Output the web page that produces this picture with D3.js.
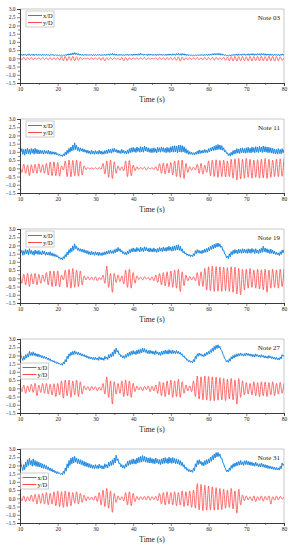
<!DOCTYPE html>
<html>
<head>
<meta charset="utf-8">
<script src="https://cdn.jsdelivr.net/npm/d3@7"></script>
<style>
  body { margin: 0; background: #fff; }
  svg text { font-family: 'Liberation Serif', 'DejaVu Serif', serif; fill: #222; }
</style>
</head>
<body>
<svg id="chart"></svg>
<script>
// panel names and legend labels
const notes = ['Note 03', 'Note 11', 'Note 19', 'Note 27', 'Note 31'];
const seriesNames = ['x/D', 'y/D'];
const xTicks = [10, 20, 30, 40, 50, 60, 70, 80];
const yTicks = [-1.5, -1.0, -0.5, 0.0, 0.5, 1.0, 1.5, 2.0, 2.5, 3.0];

// x/D, sampled every 0.25 s from 10 s to 80 s
const xD03 = [
  0.27,0.18,0.25,0.17,0.26,0.19,0.24,0.16,0.25,0.18,0.27,0.17,0.24,0.18,0.26,0.16,0.25,0.19,0.24,0.17,
  0.25,0.18,0.24,0.17,0.26,0.18,0.23,0.17,0.25,0.19,0.24,0.16,0.23,0.18,0.25,0.17,0.22,0.17,0.23,0.16,
  0.21,0.16,0.2,0.15,0.19,0.15,0.2,0.16,0.23,0.17,0.26,0.19,0.28,0.2,0.3,0.21,0.33,0.22,0.35,0.23,
  0.32,0.2,0.29,0.19,0.26,0.18,0.25,0.17,0.24,0.18,0.25,0.17,0.23,0.17,0.24,0.18,0.23,0.16,0.24,0.17,
  0.24,0.17,0.23,0.18,0.25,0.17,0.23,0.16,0.24,0.18,0.25,0.17,0.26,0.19,0.27,0.18,0.28,0.2,0.3,0.19,
  0.28,0.18,0.26,0.17,0.24,0.17,0.25,0.18,0.24,0.16,0.23,0.17,0.25,0.18,0.26,0.17,0.24,0.18,0.25,0.17,
  0.26,0.18,0.27,0.19,0.26,0.18,0.28,0.19,0.3,0.2,0.27,0.18,0.26,0.19,0.25,0.17,0.27,0.18,0.26,0.19,
  0.25,0.17,0.24,0.18,0.26,0.17,0.25,0.18,0.27,0.19,0.26,0.17,0.24,0.18,0.25,0.17,0.26,0.18,0.27,0.19,
  0.26,0.18,0.28,0.19,0.27,0.18,0.29,0.2,0.3,0.19,0.28,0.18,0.3,0.2,0.28,0.18,0.26,0.17,0.24,0.16,
  0.22,0.16,0.21,0.15,0.2,0.15,0.21,0.16,0.22,0.16,0.23,0.17,0.24,0.17,0.23,0.16,0.24,0.18,0.25,0.17,
  0.26,0.18,0.27,0.19,0.28,0.2,0.3,0.2,0.29,0.21,0.31,0.2,0.3,0.19,0.28,0.18,0.25,0.17,0.22,0.15,
  0.2,0.14,0.19,0.15,0.21,0.16,0.24,0.17,0.25,0.18,0.26,0.17,0.27,0.19,0.26,0.18,0.28,0.19,0.27,0.18,
  0.26,0.19,0.28,0.18,0.27,0.2,0.29,0.19,0.28,0.18,0.27,0.19,0.29,0.2,0.28,0.18,0.3,0.2,0.29,0.19,
  0.28,0.18,0.27,0.19,0.26,0.17,0.27,0.18,0.25,0.17,0.26,0.18,0.25,0.17,0.24,0.16,0.25,0.18,0.27,0.19,
  0.24
];
const xD11 = [
  1.28,1.0,1.2,0.85,1.15,0.8,1.18,0.88,1.22,0.9,1.15,0.85,1.2,0.92,1.18,0.86,1.22,0.9,1.16,0.88,
  1.12,0.88,1.1,0.9,1.08,0.86,1.1,0.9,1.06,0.88,1.1,0.86,1.05,0.85,1.02,0.86,1.0,0.84,0.98,0.82,
  0.9,0.78,0.86,0.74,0.82,0.72,0.88,0.76,0.98,0.82,1.1,0.9,1.22,0.98,1.3,1.05,1.42,1.1,1.55,1.15,
  1.4,1.08,1.28,1.02,1.25,1.05,1.2,1.0,1.18,0.98,1.12,0.92,1.1,0.9,1.06,0.86,1.1,0.88,1.05,0.85,
  1.08,0.88,1.04,0.86,1.1,0.88,1.06,0.85,1.02,0.86,1.08,0.9,1.12,0.9,1.18,0.95,1.15,0.92,1.2,0.98,
  1.22,1.0,1.15,0.95,1.12,0.92,1.08,0.9,1.15,0.93,1.1,0.9,1.05,0.88,1.12,0.9,1.2,0.95,1.25,0.98,
  1.28,1.0,1.22,0.96,1.3,1.02,1.25,0.98,1.32,1.0,1.28,0.98,1.35,1.05,1.3,1.0,1.25,0.98,1.2,0.95,
  1.22,0.96,1.25,0.98,1.2,0.94,1.28,1.0,1.25,0.98,1.3,1.02,1.26,0.98,1.22,0.95,1.28,0.98,1.25,0.96,
  1.32,1.0,1.35,0.98,1.38,1.0,1.35,0.95,1.4,1.0,1.42,0.98,1.38,1.0,1.32,0.95,1.2,0.9,1.1,0.85,
  1.02,0.85,0.98,0.84,0.95,0.82,0.98,0.85,1.05,0.88,1.12,0.9,1.08,0.92,1.1,0.94,1.15,0.96,1.12,0.95,
  1.2,1.0,1.25,1.05,1.3,1.08,1.35,1.1,1.4,1.12,1.45,1.15,1.42,1.12,1.38,1.1,1.25,1.0,1.1,0.9,
  0.95,0.78,0.9,0.74,0.98,0.8,1.08,0.86,1.12,0.9,1.2,0.92,1.18,0.9,1.22,0.95,1.25,0.95,1.2,0.92,
  1.25,0.95,1.28,0.96,1.22,0.94,1.3,0.98,1.26,0.95,1.32,0.98,1.28,0.96,1.34,1.0,1.3,0.96,1.36,1.0,
  1.32,0.98,1.3,0.95,1.28,0.96,1.25,0.92,1.22,0.9,1.18,0.88,1.15,0.86,1.2,0.9,1.15,0.88,1.2,0.95,
  1.15
];
const xD19 = [
  1.9,1.55,1.7,1.4,1.68,1.45,1.75,1.5,1.72,1.42,1.8,1.5,1.7,1.45,1.65,1.4,1.72,1.48,1.68,1.45,
  1.7,1.45,1.62,1.42,1.68,1.48,1.65,1.4,1.6,1.42,1.58,1.4,1.62,1.38,1.55,1.35,1.5,1.32,1.45,1.3,
  1.38,1.22,1.3,1.15,1.25,1.12,1.32,1.2,1.45,1.3,1.6,1.42,1.75,1.55,1.85,1.62,1.98,1.7,2.1,1.8,
  1.95,1.7,1.85,1.65,1.8,1.62,1.78,1.58,1.75,1.55,1.7,1.5,1.68,1.45,1.62,1.42,1.65,1.45,1.6,1.4,
  1.62,1.42,1.58,1.38,1.6,1.4,1.55,1.38,1.58,1.42,1.62,1.45,1.65,1.48,1.7,1.5,1.72,1.52,1.68,1.5,
  1.75,1.55,1.8,1.6,1.88,1.65,1.8,1.6,1.7,1.5,1.62,1.45,1.58,1.42,1.65,1.48,1.75,1.55,1.8,1.6,
  1.85,1.62,1.8,1.6,1.88,1.65,1.82,1.6,1.9,1.65,1.85,1.62,1.92,1.68,1.88,1.65,1.82,1.6,1.85,1.62,
  1.8,1.6,1.85,1.62,1.78,1.58,1.82,1.6,1.88,1.65,1.85,1.62,1.9,1.66,1.86,1.64,1.9,1.68,1.95,1.7,
  1.9,1.65,1.95,1.68,1.98,1.7,2.02,1.72,2.05,1.7,1.95,1.65,1.8,1.55,1.65,1.48,1.55,1.4,1.48,1.35,
  1.45,1.32,1.42,1.32,1.5,1.38,1.68,1.5,1.75,1.55,1.7,1.52,1.68,1.5,1.72,1.55,1.78,1.58,1.82,1.62,
  1.88,1.68,1.95,1.75,2.02,1.8,2.08,1.85,2.12,1.9,2.15,1.92,2.1,1.88,1.95,1.7,1.72,1.48,1.45,1.25,
  1.35,1.2,1.5,1.3,1.62,1.42,1.7,1.5,1.75,1.52,1.72,1.5,1.78,1.55,1.75,1.52,1.8,1.55,1.78,1.55,
  1.75,1.52,1.8,1.55,1.78,1.52,1.82,1.58,1.76,1.5,1.8,1.55,1.72,1.5,1.78,1.55,1.85,1.58,1.95,1.62,
  1.85,1.58,1.8,1.55,1.75,1.5,1.78,1.52,1.72,1.48,1.65,1.45,1.6,1.42,1.55,1.38,1.62,1.45,1.72,1.55,
  1.75
];
const xD27 = [
  2.55,2.0,1.85,1.7,1.95,1.75,2.05,1.85,2.1,1.9,2.25,2.0,2.18,1.98,2.22,2.0,2.15,1.95,2.1,1.92,
  2.08,1.9,2.02,1.85,1.98,1.82,1.95,1.8,1.9,1.75,1.85,1.7,1.8,1.65,1.72,1.6,1.68,1.55,1.62,1.5,
  1.58,1.48,1.52,1.42,1.5,1.4,1.6,1.48,1.75,1.6,1.95,1.8,2.1,1.95,2.2,2.02,2.25,2.05,2.28,2.08,
  2.22,2.05,2.2,2.02,2.15,1.98,2.1,1.95,2.05,1.9,2.0,1.85,1.95,1.8,1.92,1.78,1.9,1.75,1.88,1.72,
  1.9,1.75,1.85,1.7,1.92,1.75,1.88,1.72,1.85,1.7,1.95,1.78,1.9,1.75,2.05,1.85,2.1,1.9,2.2,1.95,
  2.35,2.1,2.45,2.2,2.3,2.05,2.1,1.92,2.0,1.85,1.98,1.82,2.05,1.88,2.15,1.95,2.2,2.0,2.25,2.05,
  2.3,2.08,2.25,2.05,2.32,2.1,2.35,2.12,2.4,2.15,2.45,2.2,2.42,2.18,2.35,2.12,2.3,2.1,2.32,2.12,
  2.28,2.08,2.25,2.05,2.3,2.1,2.22,2.02,2.2,2.0,2.25,2.05,2.28,2.08,2.32,2.1,2.3,2.08,2.35,2.12,
  2.3,2.1,2.32,2.12,2.28,2.1,2.3,2.12,2.25,2.08,2.2,2.02,2.1,1.92,1.98,1.82,1.85,1.7,1.75,1.62,
  1.7,1.58,1.65,1.55,1.75,1.62,1.95,1.8,2.1,1.95,2.15,2.0,2.1,1.95,2.05,1.92,2.12,1.98,2.2,2.05,
  2.25,2.1,2.35,2.18,2.45,2.25,2.55,2.35,2.62,2.42,2.65,2.45,2.55,2.35,2.3,2.1,2.0,1.82,1.75,1.6,
  1.7,1.58,1.8,1.65,1.92,1.78,2.0,1.85,2.05,1.9,2.1,1.95,2.12,1.98,2.15,2.0,2.1,1.95,2.12,1.98,
  2.15,2.0,2.12,1.98,2.1,1.95,2.08,1.92,2.05,1.9,2.1,1.95,2.05,1.9,2.02,1.88,2.05,1.9,2.0,1.85,
  1.98,1.84,1.95,1.82,2.0,1.85,1.95,1.8,1.92,1.78,1.9,1.75,1.88,1.74,1.85,1.72,1.9,1.78,2.05,1.95,
  2.0
];
const xD31 = [
  2.75,2.1,1.9,1.7,2.05,1.75,2.2,1.9,2.35,2.0,2.45,2.05,2.3,1.95,2.4,2.0,2.3,1.95,2.25,1.92,
  2.2,1.9,2.15,1.85,2.1,1.82,2.05,1.8,2.0,1.75,1.92,1.7,1.85,1.65,1.8,1.6,1.72,1.55,1.65,1.5,
  1.62,1.5,1.55,1.45,1.52,1.44,1.65,1.5,1.85,1.65,2.1,1.85,2.3,2.0,2.45,2.1,2.5,2.15,2.55,2.2,
  2.45,2.12,2.4,2.1,2.35,2.05,2.3,2.0,2.25,1.95,2.2,1.92,2.15,1.88,2.1,1.85,2.05,1.82,2.02,1.8,
  2.05,1.82,2.0,1.8,2.08,1.85,2.0,1.8,1.98,1.78,2.1,1.88,2.05,1.85,2.2,1.95,2.25,2.0,2.35,2.05,
  2.45,2.15,2.62,2.3,2.4,2.1,2.15,1.92,2.05,1.85,2.0,1.82,2.1,1.9,2.25,2.0,2.3,2.05,2.35,2.08,
  2.4,2.1,2.35,2.08,2.45,2.15,2.5,2.18,2.55,2.2,2.6,2.25,2.55,2.2,2.5,2.18,2.45,2.15,2.48,2.15,
  2.42,2.12,2.4,2.1,2.45,2.15,2.38,2.08,2.35,2.05,2.4,2.1,2.45,2.12,2.48,2.15,2.42,2.1,2.5,2.15,
  2.45,2.12,2.48,2.15,2.42,2.1,2.4,2.1,2.35,2.05,2.3,2.0,2.2,1.92,2.05,1.8,1.9,1.7,1.8,1.62,
  1.75,1.6,1.7,1.58,1.85,1.68,2.1,1.9,2.3,2.05,2.35,2.1,2.25,2.0,2.2,1.98,2.3,2.05,2.35,2.1,
  2.4,2.15,2.5,2.25,2.6,2.35,2.7,2.45,2.78,2.52,2.8,2.55,2.7,2.45,2.45,2.2,2.1,1.9,1.8,1.62,
  1.72,1.6,1.85,1.7,2.0,1.82,2.1,1.9,2.15,1.95,2.2,2.0,2.25,2.02,2.3,2.05,2.22,2.0,2.28,2.05,
  2.3,2.05,2.25,2.02,2.22,2.0,2.2,1.98,2.15,1.95,2.2,1.98,2.12,1.92,2.1,1.9,2.15,1.92,2.08,1.88,
  2.05,1.85,2.02,1.82,1.98,1.8,1.95,1.78,1.92,1.75,1.9,1.74,1.88,1.72,1.85,1.72,1.95,1.8,2.15,2.0,
  2.1
];

// y/D, sampled every 0.5 s (alternate crests and troughs) from 10 s to 80 s
const yD03 = [
  0.05,-0.08,0.06,-0.1,0.04,-0.07,0.05,-0.09,0.03,-0.06,
  0.04,-0.08,0.05,-0.07,0.03,-0.09,0.06,-0.1,0.04,-0.08,
  0.05,-0.11,0.1,-0.14,0.12,-0.15,0.11,-0.13,0.12,-0.14,
  0.1,-0.12,0.06,-0.08,0.04,-0.06,0.03,-0.07,0.04,-0.06,
  0.03,-0.07,0.05,-0.12,0.06,-0.16,0.04,-0.09,0.05,-0.08,
  0.04,-0.07,0.03,-0.1,0.06,-0.15,0.05,-0.12,0.04,-0.08,
  0.03,-0.06,0.04,-0.07,0.03,-0.06,0.05,-0.08,0.04,-0.07,
  0.03,-0.06,0.04,-0.08,0.05,-0.07,0.04,-0.09,0.05,-0.08,
  0.06,-0.1,0.07,-0.12,0.09,-0.17,0.08,-0.11,0.05,-0.08,
  0.04,-0.07,0.03,-0.06,0.05,-0.08,0.04,-0.09,0.06,-0.1,
  0.05,-0.09,0.06,-0.11,0.05,-0.08,0.04,-0.07,0.06,-0.12,
  0.08,-0.15,0.1,-0.16,0.12,-0.17,0.11,-0.15,0.12,-0.14,
  0.1,-0.15,0.12,-0.16,0.11,-0.14,0.12,-0.16,0.13,-0.15,
  0.11,-0.16,0.13,-0.15,0.12,-0.17,0.11,-0.14,0.1,-0.12,
  0.02
];
const yD11 = [
  0.2,-0.25,0.25,-0.3,0.2,-0.45,0.22,-0.28,0.25,-0.3,
  0.28,-0.25,0.22,-0.3,0.3,-0.4,0.38,-0.45,0.4,-0.45,
  0.35,-0.48,0.15,-0.1,0.45,-0.5,0.5,-0.52,0.48,-0.45,
  0.5,-0.48,0.42,-0.4,0.15,-0.08,0.05,-0.05,0.03,-0.05,
  0.04,-0.06,0.05,-0.05,0.3,-0.35,0.45,-0.55,0.5,-0.62,
  0.4,-0.3,0.15,-0.12,0.1,-0.15,0.45,-0.5,0.48,-0.45,
  0.2,-0.15,0.1,-0.08,0.06,-0.05,0.08,-0.1,0.06,-0.05,
  0.05,-0.08,0.1,-0.15,0.28,-0.3,0.32,-0.35,0.3,-0.28,
  0.35,-0.4,0.45,-0.5,0.48,-0.55,0.5,-0.62,0.3,-0.25,
  0.1,-0.12,0.08,-0.1,0.25,-0.3,0.3,-0.35,0.2,-0.25,
  0.45,-0.45,0.5,-0.5,0.52,-0.55,0.48,-0.5,0.5,-0.52,
  0.45,-0.5,0.55,-0.6,0.58,-0.7,0.6,-0.65,0.55,-0.6,
  0.6,-0.55,0.55,-0.6,0.5,-0.55,0.52,-0.6,0.55,-0.58,
  0.6,-0.62,0.55,-0.55,0.5,-0.5,0.55,-0.5,0.58,-0.48,
  0.6
];
const yD19 = [
  0.3,-0.3,0.25,-0.4,0.3,-0.5,0.28,-0.35,0.3,-0.4,
  0.25,-0.3,0.2,-0.2,0.35,-0.4,0.45,-0.5,0.45,-0.48,
  0.45,-0.52,0.2,-0.1,0.5,-0.55,0.55,-0.6,0.6,-0.55,
  0.5,-0.5,0.45,-0.4,0.15,-0.1,0.1,-0.1,0.08,-0.12,
  0.1,-0.15,0.05,-0.08,0.2,-0.3,0.75,-0.55,0.3,-0.85,
  0.3,-0.25,0.2,-0.2,0.15,-0.35,0.5,-0.55,0.55,-0.6,
  0.35,-0.3,0.15,-0.08,0.08,-0.1,0.1,-0.05,0.06,-0.12,
  0.1,-0.15,0.2,-0.25,0.3,-0.4,0.35,-0.45,0.4,-0.5,
  0.45,-0.55,0.5,-0.6,0.55,-0.8,0.4,-0.45,0.2,-0.15,
  0.12,-0.1,0.1,-0.15,0.35,-0.45,0.4,-0.5,0.6,-0.7,
  0.7,-0.75,0.75,-0.8,0.72,-0.78,0.7,-0.8,0.68,-0.75,
  0.65,-0.8,0.7,-0.85,0.68,-0.95,0.6,-1.0,0.55,-0.7,
  0.55,-0.6,0.6,-0.55,0.5,-0.6,0.55,-0.65,0.52,-0.7,
  0.55,-0.85,0.5,-0.6,0.55,-0.55,0.5,-0.6,0.55,-0.5,
  0.58
];
const yD27 = [
  0.25,-0.2,0.2,-0.3,0.15,-0.2,0.25,-0.25,0.3,-0.45,
  0.2,-0.25,0.3,-0.3,0.3,-0.35,0.25,-0.4,0.28,-0.5,
  0.3,-0.4,0.45,-0.6,0.5,-0.45,0.5,-0.55,0.45,-0.4,
  0.5,-0.5,0.4,-0.35,0.15,-0.1,0.1,-0.15,0.12,-0.08,
  0.1,-0.15,0.08,-0.12,0.3,-0.35,0.7,-0.55,0.45,-0.95,
  0.4,-0.35,0.3,-0.3,0.45,-0.5,0.5,-0.45,0.45,-0.55,
  0.3,-0.2,0.15,-0.1,0.1,-0.15,0.12,-0.08,0.15,-0.2,
  0.12,-0.15,0.2,-0.3,0.4,-0.45,0.35,-0.5,0.45,-0.4,
  0.5,-0.55,0.45,-0.5,0.55,-0.55,0.4,-0.3,0.2,-0.15,
  0.15,-0.2,0.45,-0.5,0.75,-0.65,0.7,-0.7,0.75,-0.72,
  0.72,-0.75,0.7,-0.75,0.68,-0.72,0.65,-0.7,0.6,-0.75,
  0.55,-0.65,0.6,-0.7,0.5,-0.95,0.6,-0.55,0.45,-0.4,
  0.35,-0.35,0.3,-0.4,0.4,-0.45,0.35,-0.5,0.4,-0.45,
  0.38,-0.5,0.35,-0.4,0.4,-0.45,0.3,-0.35,0.35,-0.3,
  0.3
];
const yD31 = [
  0.2,-0.15,0.15,-0.2,0.1,-0.15,0.2,-0.2,0.25,-0.35,
  0.25,-0.3,0.3,-0.35,0.35,-0.4,0.3,-0.35,0.4,-0.45,
  0.45,-0.5,0.4,-0.55,0.45,-0.5,0.4,-0.45,0.35,-0.3,
  0.4,-0.35,0.3,-0.25,0.2,-0.15,0.1,-0.1,0.08,-0.12,
  0.15,-0.2,0.35,-0.4,0.5,-0.5,0.6,-0.6,0.45,-0.85,
  0.3,-0.25,0.15,-0.1,0.1,-0.15,0.35,-0.4,0.4,-0.45,
  0.3,-0.2,0.12,-0.1,0.1,-0.08,0.12,-0.1,0.15,-0.12,
  0.1,-0.08,0.12,-0.15,0.3,-0.35,0.35,-0.4,0.4,-0.35,
  0.35,-0.4,0.4,-0.45,0.35,-0.4,0.45,-0.5,0.4,-0.45,
  0.45,-0.55,0.5,-0.6,0.9,-0.7,0.85,-0.75,0.8,-0.72,
  0.75,-0.7,0.7,-0.72,0.65,-0.7,0.6,-0.68,0.55,-0.6,
  0.5,-0.55,0.6,-0.65,0.45,-0.9,0.55,-0.4,0.2,-0.15,
  0.15,-0.1,0.1,-0.15,0.15,-0.2,0.1,-0.12,0.15,-0.18,
  0.12,-0.1,0.15,-0.35,0.1,-0.12,0.15,-0.1,0.12,-0.05,
  0.08
];

const xSeries = [xD03, xD11, xD19, xD27, xD31];
const ySeries = [yD03, yD11, yD19, yD27, yD31];
// legend sits top-left in the first three panels, lower in the last two
const legendLow = [false, false, false, true, true];

const W = 296, H = 550, panelH = 110;
const margin = { top: 9, right: 12, bottom: 27, left: 20 };
const plotW = W - margin.left - margin.right;
const plotH = panelH - margin.top - margin.bottom;
const blue = '#1f88e0', red = '#ff4a4a';

const svg = d3.select('#chart').attr('width', W).attr('height', H);

svg.append('defs').append('clipPath').attr('id', 'plot-clip')
  .append('rect').attr('width', plotW).attr('height', plotH);

const x = d3.scaleLinear().domain([10, 80]).range([0, plotW]);
const y = d3.scaleLinear().domain([-1.5, 3.0]).range([plotH, 0]);

const lineX = d3.line().x((d, i) => x(10 + i * 0.25)).y(d => y(d));
const lineY = d3.line().x((d, i) => x(10 + i * 0.5)).y(d => y(d)).curve(d3.curveCatmullRom);

notes.forEach((note, p) => {
  const g = svg.append('g')
    .attr('transform', `translate(${margin.left},${p * panelH + margin.top})`);

  // light frame on top and right
  g.append('path')
    .attr('d', `M0,0H${plotW}V${plotH}`)
    .attr('fill', 'none').attr('stroke', '#bbb').attr('stroke-width', 0.8);

  const data = g.append('g').attr('clip-path', 'url(#plot-clip)');
  data.append('path')
    .datum(ySeries[p])
    .attr('fill', 'none').attr('stroke', red).attr('stroke-width', 0.8)
    .attr('d', lineY);
  data.append('path')
    .datum(xSeries[p])
    .attr('fill', 'none').attr('stroke', blue).attr('stroke-width', 1)
    .attr('d', lineX);

  // axes with minor ticks
  const xMinor = g.append('g').attr('transform', `translate(0,${plotH})`)
    .call(d3.axisBottom(x).tickValues(d3.range(15, 80, 10)).tickSize(2).tickFormat(''));
  const xAxis = g.append('g').attr('transform', `translate(0,${plotH})`)
    .call(d3.axisBottom(x).tickValues(xTicks).tickSize(3).tickPadding(1.5).tickFormat(d3.format('d')));
  const yMinor = g.append('g')
    .call(d3.axisLeft(y).tickValues(d3.range(-1.25, 3, 0.5)).tickSize(2).tickFormat(''));
  const yAxis = g.append('g')
    .call(d3.axisLeft(y).tickValues(yTicks).tickSize(3).tickPadding(1.5).tickFormat(d3.format('.1f')));

  [xMinor, xAxis, yMinor, yAxis].forEach(a => {
    a.select('.domain').attr('stroke', '#333').attr('stroke-width', 0.8);
    a.selectAll('.tick line').attr('stroke', '#333').attr('stroke-width', 0.6);
    a.selectAll('.tick text').attr('font-size', 5.5).attr('fill', '#333')
      .style('font-family', "'Liberation Serif', serif");
  });

  g.append('text')
    .attr('x', plotW / 2).attr('y', plotH + 18.5)
    .attr('text-anchor', 'middle').attr('font-size', 7.5)
    .text('Time (s)');

  g.append('text')
    .attr('x', plotW - 4).attr('y', 10.5)
    .attr('text-anchor', 'end').attr('font-size', 7)
    .text(note);

  // legend
  const lg = g.append('g')
    .attr('transform', legendLow[p] ? 'translate(0.5,24)' : 'translate(6,2)');
  lg.append('rect')
    .attr('width', 28).attr('height', 16)
    .attr('fill', '#fff').attr('stroke', '#aaa').attr('stroke-width', 0.6);
  seriesNames.forEach((name, k) => {
    const yy = 4.5 + k * 7;
    lg.append('line')
      .attr('x1', 2).attr('x2', 16).attr('y1', yy).attr('y2', yy)
      .attr('stroke', k === 0 ? blue : red).attr('stroke-width', 1);
    lg.append('text')
      .attr('x', 17).attr('y', yy + 2)
      .attr('font-size', 6.5)
      .text(name);
  });
});
</script>
</body>
</html>
